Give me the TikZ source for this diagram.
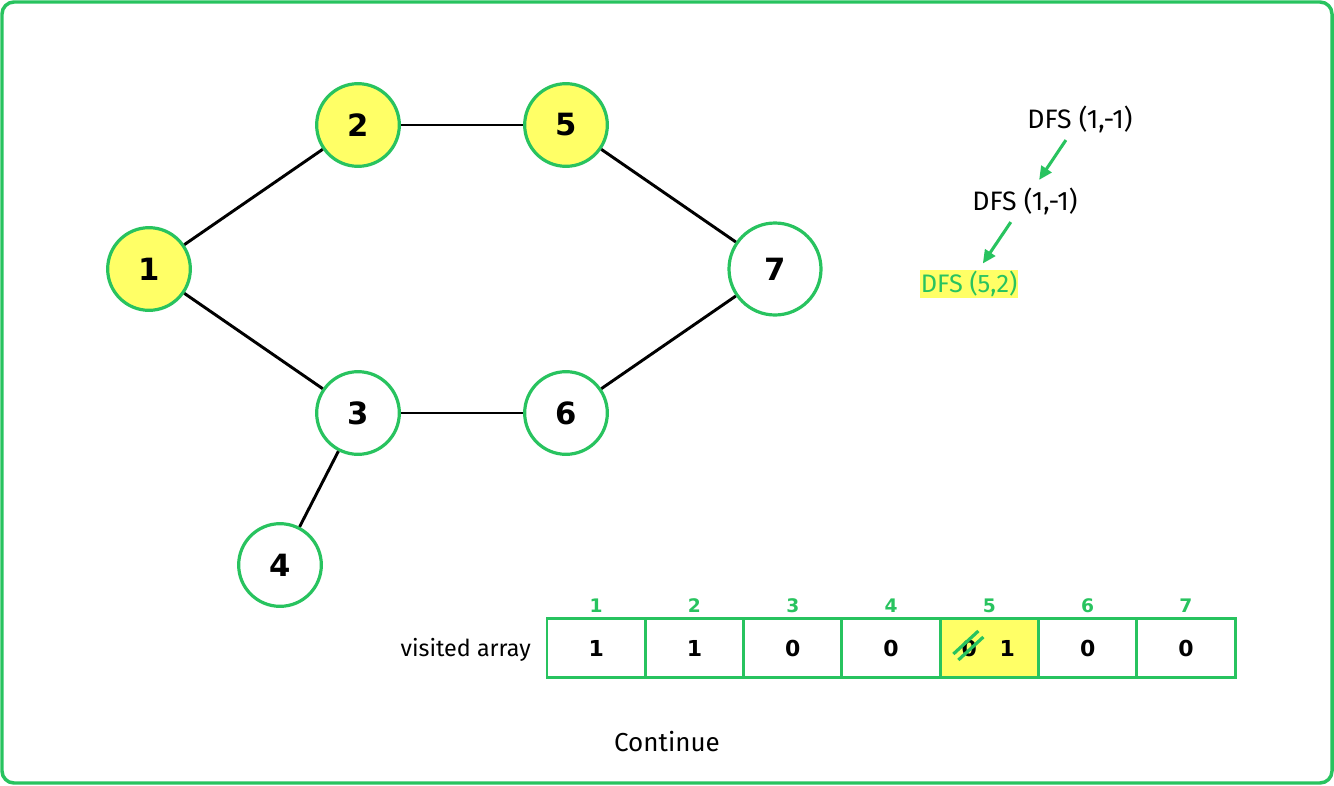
\documentclass[tikz,border=0pt]{standalone}
\usepackage{fontspec}
\setmainfont{Fira Sans}
\newfontfamily\numfont{DejaVu Sans}
\usetikzlibrary{positioning,calc,arrows.meta}

\definecolor{gfggreen}{RGB}{40,195,95}
\definecolor{hlyellow}{RGB}{255,255,102}

\begin{document}
\begin{tikzpicture}[x=0.75pt,y=-0.75pt]
    \useasboundingbox (0,0) rectangle (1334,785);
    \draw[gfggreen, line width=2.6pt, rounded corners=9pt] (2,2) rectangle (1332,783);

    % the graph
    \begin{scope}[
            every node/.style={circle, draw=gfggreen, line width=2.4pt, fill=white,
                minimum size=62pt, inner sep=0pt, font=\numfont\bfseries\fontsize{23}{27}\selectfont},
            every edge/.style={draw, black, line width=2.2pt},
            seen/.style={fill=hlyellow}
        ]

        \node[seen] (1) at (149,269) {1};
        \node[seen] (2) at (358,125) {2};
        \node[seen] (5) at (566,125) {5};
        \node[minimum size=69pt] (7) at (775,269) {7};
        \node (3) at (358,413) {3};
        \node (6) at (566,413) {6};
        \node (4) at (280,565) {4};

        \path (1) edge (2);
        \path (2) edge (5);
        \path (5) edge (7);
        \path (1) edge (3);
        \path (3) edge (6);
        \path (6) edge (7);
        \path (3) edge (4);
    \end{scope}

    % call stack
    \begin{scope}[
            every node/.style={inner sep=3pt, font=\fontsize{20}{24}\selectfont},
            call/.style={-{Triangle[length=10pt,width=9pt]}, gfggreen, line width=2.3pt, shorten <=3pt, shorten >=3pt}
        ]
        \node (d1) at (1080,119) {DFS (1,-1)};
        \node (d2) at (1025,201) {DFS (1,-1)};
        \node[fill=hlyellow, text=gfggreen, inner sep=0.6pt, font=\fontsize{19}{23}\selectfont] (d3) at (969,284) {DFS (5,2)};

        \draw[call] (d1) -- (d2);
        \draw[call, shorten >=6pt] (d2) -- (d3);
    \end{scope}

    % visited array
    \tikzset{
        cell/.style={draw=gfggreen, line width=2.2pt, minimum width=73.7pt, minimum height=44pt,
            inner sep=0pt, font=\numfont\bfseries\fontsize{16.5}{19}\selectfont},
        idx/.style={text=gfggreen, inner sep=0pt, font=\numfont\bfseries\fontsize{14}{16}\selectfont}
    }
    \foreach \val [count=\i] in {1,1,0,0,1,0,0} {
        \ifnum\i=5 \def\cellfill{hlyellow}\else\def\cellfill{white}\fi
        \node[cell, fill=\cellfill] (v\i) at ({547+98.3*(\i-0.5)},648) {\ifnum\i=5 \else\val\fi};
        \node[idx, above=3pt of v\i] {\i};
    }
    \node[inner sep=0pt, font=\numfont\bfseries\fontsize{16.5}{19}\selectfont] (old) at ($(v5)+(-20,0)$) {0};
    \node[inner sep=0pt, font=\numfont\bfseries\fontsize{16.5}{19}\selectfont] (new) at ($(v5)+(18,0)$) {1};
    \draw[gfggreen, line width=2.4pt] ($(old)+(-16,6)$) -- ($(old)+(9,-17)$);
    \draw[gfggreen, line width=2.4pt] ($(old)+(-11,12)$) -- ($(old)+(14,-11)$);

    \node[anchor=east, inner sep=0pt, font=\fontsize{17.5}{21}\selectfont] (lbl) at (531,650) {visited array};
    \node[font=\fontsize{19.5}{23}\selectfont] (cont) at (667,742) {Continue};
\end{tikzpicture}
\end{document}
